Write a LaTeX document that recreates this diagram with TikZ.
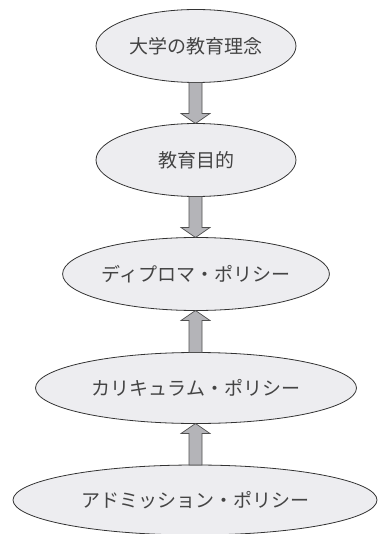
\documentclass[tikz,border=0pt]{standalone}
\usepackage{fontspec}
\newfontfamily\cjk{Noto Sans CJK JP}
\usetikzlibrary{shapes.geometric,calc}
\definecolor{ellfill}{HTML}{EDEDF0}
\definecolor{ellline}{HTML}{333333}
\definecolor{arrfill}{HTML}{B4B4B8}
\definecolor{arrline}{HTML}{505050}
\definecolor{txt}{HTML}{444444}
\tikzset{
  oval/.style={ellipse, draw=ellline, fill=ellfill, line width=0.8pt, inner sep=0pt, outer sep=0pt,
    font=\cjk\fontsize{19}{21}\selectfont, text=txt},
  fatarrow/.style={fill=arrfill, draw=arrline, line width=0.7pt, line join=miter},
}
% #1 start node anchor, #2 tip node anchor, #3 = -1 for downward, 1 for upward (pixel y grows downward)
\newcommand\fatarr[3]{%
  \filldraw[fatarrow] ($(#1)+(-6.5,0)$) -- ($(#2)+(-6.5,#3*10)$) -- ($(#2)+(-14.5,#3*10)$) -- (#2)
    -- ($(#2)+(14.5,#3*10)$) -- ($(#2)+(6.5,#3*10)$) -- ($(#1)+(6.5,0)$) -- cycle;}
\begin{document}
\begin{tikzpicture}[x=1pt,y=-1pt]
\useasboundingbox (0,0) rectangle (377,534);
\node[oval, minimum width=200pt, minimum height=73pt] (e1) at (196,46) {大学の教育理念};
\node[oval, minimum width=200pt, minimum height=73pt] (e2) at (196,160) {教育目的};
\node[oval, minimum width=259pt, minimum height=73pt] (e3) at (196,274) {ディプロマ・ポリシー};
\node[oval, minimum width=321pt, minimum height=71pt] (e4) at (196,388) {カリキュラム・ポリシー};
\node[oval, minimum width=364pt, minimum height=70pt] (e5) at (195,500) {アドミッション・ポリシー};
\fatarr{$(e1.south)+(-0.5,0)$}{$(e2.north)+(-0.5,0)$}{-1}
\fatarr{$(e2.south)+(-0.5,0)$}{$(e3.north)+(-0.5,0)$}{-1}
\fatarr{$(e4.north)+(-0.5,0)$}{$(e3.south)+(-0.5,0)$}{1}
\fatarr{$(e5.north)+(0.5,0)$}{$(e4.south)+(-0.5,0)$}{1}
\end{tikzpicture}
\end{document}
